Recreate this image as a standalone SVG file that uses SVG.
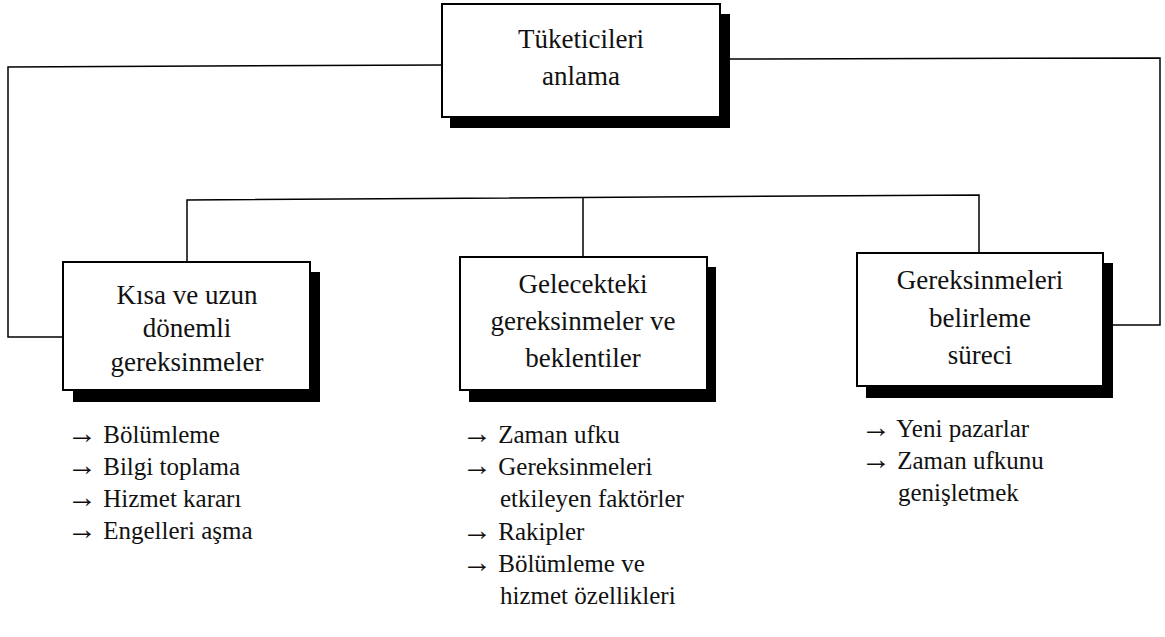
<svg xmlns="http://www.w3.org/2000/svg" width="1165" height="637" viewBox="0 0 1165 637">
  <style>
    .box { fill: #fff; stroke: #000; stroke-width: 2; }
    .shadow { fill: #000; }
    .wire { fill: none; stroke: #000; stroke-width: 1.5; }
    text { font-family: 'Liberation Serif', 'DejaVu Serif', serif; fill: #111; }
    .title { font-size: 27px; text-anchor: middle; }
    .item { font-size: 25px; }
    .arw { font-size: 30px; }
  </style>
  <rect width="1165" height="637" fill="#fff"/>

  <!-- connectors -->
  <g id="connectors">
    <polyline class="wire" points="442,65 8,67 8,337 63,337"/>
    <polyline class="wire" points="720,59 1160,58 1160,325 1113,325"/>
    <polyline class="wire" points="187,262 187,200 979,195 979,253"/>
    <line class="wire" x1="583" y1="198" x2="583" y2="257"/>
  </g>

  <!-- root node -->
  <g id="node-root">
    <rect class="shadow" x="450" y="14" width="280" height="114"/>
    <rect class="box" x="442" y="4" width="278" height="113"/>
    <text class="title" x="581" y="48">Tüketicileri</text>
    <text class="title" x="581" y="85">anlama</text>
  </g>

  <!-- short and long term needs -->
  <g id="node-short-long">
    <rect class="shadow" x="73" y="272" width="247" height="130"/>
    <rect class="box" x="63" y="262" width="247" height="128"/>
    <text class="title" x="187" y="304">Kısa ve uzun</text>
    <text class="title" x="187" y="337">dönemli</text>
    <text class="title" x="187" y="371">gereksinmeler</text>
    <g class="item">
      <text x="67" y="443"><tspan class="arw">→</tspan> Bölümleme</text>
      <text x="67" y="475"><tspan class="arw">→</tspan> Bilgi toplama</text>
      <text x="67" y="507"><tspan class="arw">→</tspan> Hizmet kararı</text>
      <text x="67" y="539"><tspan class="arw">→</tspan> Engelleri aşma</text>
    </g>
  </g>

  <!-- future needs and expectations -->
  <g id="node-future">
    <rect class="shadow" x="469" y="267" width="247" height="135"/>
    <rect class="box" x="460" y="257" width="247" height="133"/>
    <text class="title" x="583" y="293">Gelecekteki</text>
    <text class="title" x="583" y="330">gereksinmeler ve</text>
    <text class="title" x="583" y="367">beklentiler</text>
    <g class="item">
      <text x="462" y="443"><tspan class="arw">→</tspan> Zaman ufku</text>
      <text x="462" y="475"><tspan class="arw">→</tspan> Gereksinmeleri</text>
      <text x="500" y="507">etkileyen faktörler</text>
      <text x="462" y="540"><tspan class="arw">→</tspan> Rakipler</text>
      <text x="462" y="572"><tspan class="arw">→</tspan> Bölümleme ve</text>
      <text x="500" y="604">hizmet özellikleri</text>
    </g>
  </g>

  <!-- needs identification process -->
  <g id="node-process">
    <rect class="shadow" x="866" y="263" width="247" height="135"/>
    <rect class="box" x="857" y="253" width="246" height="133"/>
    <text class="title" x="980" y="289">Gereksinmeleri</text>
    <text class="title" x="980" y="327">belirleme</text>
    <text class="title" x="980" y="364">süreci</text>
    <g class="item">
      <text x="861" y="437"><tspan class="arw">→</tspan> Yeni pazarlar</text>
      <text x="861" y="469"><tspan class="arw">→</tspan> Zaman ufkunu</text>
      <text x="898" y="501">genişletmek</text>
    </g>
  </g>
</svg>
